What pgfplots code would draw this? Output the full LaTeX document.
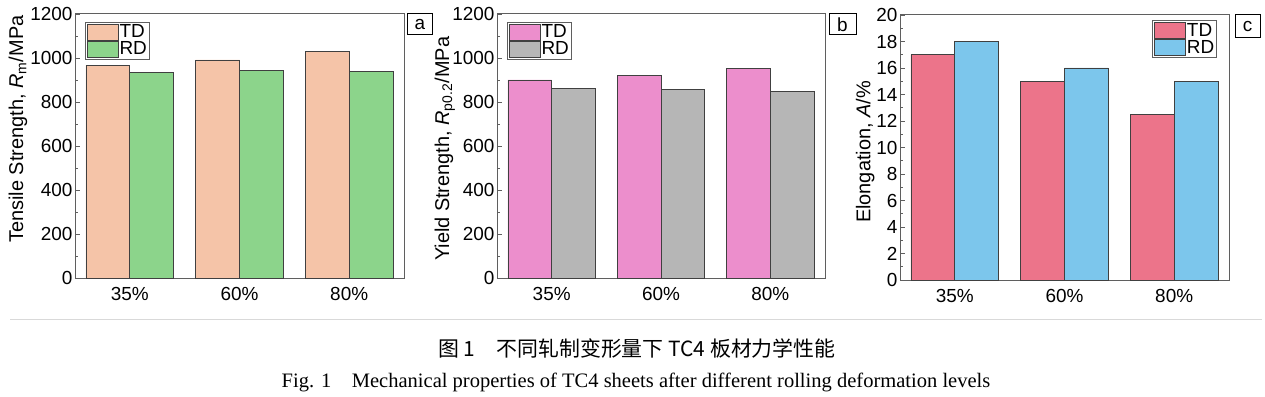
\documentclass[border=0pt]{standalone}
\usepackage{fontspec}
\setmainfont{Liberation Sans}
\newfontfamily\seriffont{Liberation Serif}
\newfontfamily\cjk{Noto Sans CJK SC}
\usepackage{pgfplots}
\pgfplotsset{compat=1.18}

\definecolor{tdA}{RGB}{245,196,168}
\definecolor{rdA}{RGB}{140,212,139}
\definecolor{tdB}{RGB}{236,142,204}
\definecolor{rdB}{RGB}{182,182,182}
\definecolor{tdC}{RGB}{236,116,138}
\definecolor{rdC}{RGB}{124,198,236}
\definecolor{axgray}{RGB}{95,95,95}

\pgfplotsset{
  myaxis/.style={
    scale only axis,
    height=264bp,
    axis line style={draw=axgray, line width=1bp},
    xmin=-0.5, xmax=2.5,
    xtick={0,1,2}, xticklabels={35\%,60\%,80\%},
    xtick style={draw=none},
    ytick pos=left, tick align=inside,
    major tick length=5bp, minor tick length=3bp,
    ytick style={axgray, line width=0.8bp},
    minor y tick num=1,
    ymin=0,
    scaled y ticks=false,
    /pgf/number format/1000 sep={},
    /pgf/number format/assume math mode=true,
    ticklabel style={font=\fontsize{19}{20}\selectfont},
    yticklabel style={xshift=1bp},
    xticklabel style={yshift=-6bp},
    label style={font=\fontsize{20}{22}\selectfont},
    legend style={draw=axgray, line width=0.8bp, fill=white,
      font=\fontsize{19}{20}\selectfont, inner sep=1.5bp,
      nodes={inner sep=1bp}, row sep=0pt},
    legend cell align=left,
  },
  mybar/.style={ybar, bar width=0.4, draw=black!75, line width=0.8bp, fill=#1,
    legend image code/.code={\draw[fill=#1, draw=black!75, line width=0.8bp] (0bp,-8bp) rectangle (31bp,8bp);}},
}

\pgfplotstableread{
x TD RD
0 968 936
1 991 944
2 1030 939
}\tableA
\pgfplotstableread{
x TD RD
0 900 861
1 920 859
2 953 847
}\tableB
\pgfplotstableread{
x TD RD
0 17 18
1 15 16
2 12.5 15
}\tableC

\begin{document}
\begin{tikzpicture}[x=1bp,y=1bp]
\path[use as bounding box] (0,0) rectangle (1265,396);

% panel a
\begin{axis}[myaxis, at={(75bp,118bp)}, anchor=south west, width=329bp,
  ymax=1200, ytick={0,200,...,1200},
  ylabel={Tensile Strength, \textit{R}\textsubscript{m}/MPa},
  ylabel style={at={(axis description cs:-0.173,0.564)}, anchor=center},
  legend style={at={(0.03,0.97)}, anchor=north west}]
\addplot[mybar=tdA, bar shift=-0.2] table[x=x,y=TD]{\tableA};
\addplot[mybar=rdA, bar shift=0.2] table[x=x,y=RD]{\tableA};
\legend{TD,RD}
\end{axis}
\node[draw=black, line width=1bp, minimum width=25bp, minimum height=21bp, inner sep=0pt,
  font=\fontsize{19}{20}\selectfont] at (420,372) {a};

% panel b
\begin{axis}[myaxis, at={(497bp,118bp)}, anchor=south west, width=328bp,
  ymax=1200, ytick={0,200,...,1200},
  ylabel={Yield Strength, \textit{R}\textsubscript{p0.2}/MPa},
  ylabel style={at={(axis description cs:-0.159,0.489)}, anchor=center},
  legend style={at={(0.03,0.97)}, anchor=north west}]
\addplot[mybar=tdB, bar shift=-0.2] table[x=x,y=TD]{\tableB};
\addplot[mybar=rdB, bar shift=0.2] table[x=x,y=RD]{\tableB};
\legend{TD,RD}
\end{axis}
\node[draw=black, line width=1bp, minimum width=27bp, minimum height=21bp, inner sep=0pt,
  font=\fontsize{19}{20}\selectfont] at (842.5,371.5) {b};

% panel c
\begin{axis}[myaxis, at={(900bp,116bp)}, anchor=south west, width=329bp, height=265bp,
  ymax=20, ytick={0,2,...,20},
  ylabel={Elongation, \textit{A}/\%},
  ylabel style={at={(axis description cs:-0.106,0.483)}, anchor=center},
  legend style={at={(0.964,0.98)}, anchor=north east}]
\addplot[mybar=tdC, bar shift=-0.2] table[x=x,y=TD]{\tableC};
\addplot[mybar=rdC, bar shift=0.2] table[x=x,y=RD]{\tableC};
\legend{TD,RD}
\end{axis}
\node[draw=black, line width=1bp, minimum width=25bp, minimum height=23bp, inner sep=0pt,
  font=\fontsize{19}{20}\selectfont] at (1247.5,369.5) {c};

% separator line
\draw[black!15, line width=1bp] (10,77) -- (1262,77);

% captions
\node[anchor=base, inner sep=0pt, font=\fontsize{21}{22}\selectfont] at (637,40)
  {\cjk 图 1\hspace{1em}不同轧制变形量下 TC4 板材力学性能};
\node[anchor=base, inner sep=0pt, font=\fontsize{20.6}{22}\selectfont] at (636,9)
  {\seriffont Fig. 1\hspace{1em}Mechanical properties of TC4 sheets after different rolling deformation levels};
\end{tikzpicture}
\end{document}
